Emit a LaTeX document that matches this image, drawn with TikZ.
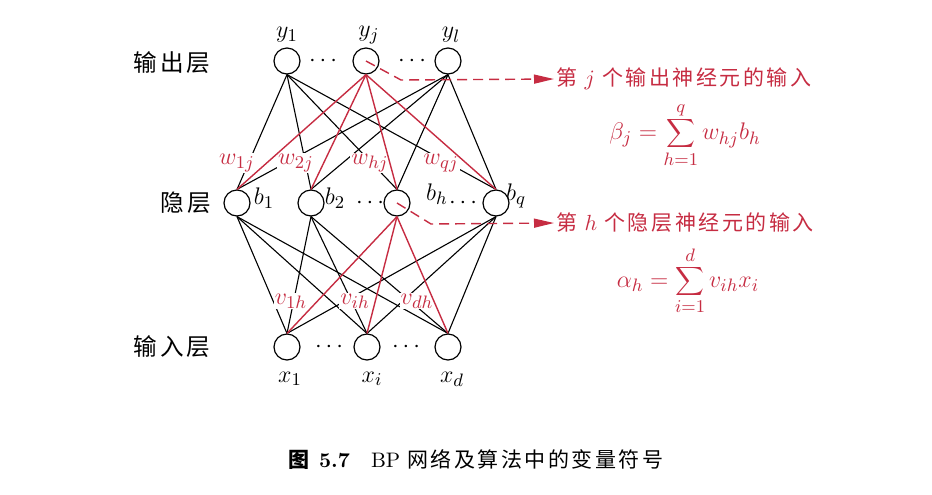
\documentclass[tikz,border=0pt]{standalone}
\usepackage{fontspec}
\newfontfamily\cjk[LetterSpace=12]{Noto Sans CJK SC}
\usetikzlibrary{arrows.meta}
\definecolor{bpred}{RGB}{198,44,66}
\begin{document}
\fontsize{12.5}{15}\selectfont
\begin{tikzpicture}[x=0.5pt,y=-0.5pt,
  neuron/.style={circle,draw,line width=0.6pt,minimum size=13pt,inner sep=0pt},
  edge/.style={line width=0.55pt},
  redge/.style={bpred,line width=0.7pt},
  wlab/.style={fill=white,inner sep=0.6pt,text=bpred},
  nlab/.style={inner sep=0pt},
  dotsn/.style={inner sep=0pt},
  layer/.style={inner sep=0pt,font=\cjk\fontsize{11.8}{14}\selectfont},
  annot/.style={bpred,line width=0.7pt,dash pattern=on 5pt off 3pt,-{Triangle[length=10pt,width=4.5pt]}},
  annottext/.style={text=bpred,inner sep=1pt,font=\cjk\fontsize{10.5}{13}\selectfont},
  formula/.style={text=bpred,inner sep=0pt}
]
\useasboundingbox (0,0) rectangle (932,494);

% neurons
\node[neuron] (y1) at (287,61) {};
\node[neuron] (yj) at (366,61) {};
\node[neuron] (yl) at (448,61) {};
\node[neuron] (b1) at (237,203) {};
\node[neuron] (b2) at (311,203) {};
\node[neuron] (bh) at (397,203) {};
\node[neuron] (bq) at (496,203) {};
\node[neuron] (x1) at (287,347) {};
\node[neuron] (xi) at (367,347) {};
\node[neuron] (xd) at (448,347) {};

% black edges
\foreach \u in {y1,yl}
  \foreach \h in {b1,b2,bh,bq}
    \draw[edge] (\u.south) -- (\h.north);
\foreach \h in {b1,b2,bq}
  \foreach \x in {x1,xi,xd}
    \draw[edge] (\h.south) -- (\x.north);

% weight labels
\node[wlab] (w1) at (237,163) {$w_{1j}$};
\node[wlab] (w2) at (296,163) {$w_{2j}$};
\node[wlab] (wh) at (370,163) {$w_{hj}$};
\node[wlab] (wq) at (441,163) {$w_{qj}$};
\node[wlab] (v1) at (291,301) {$v_{1h}$};
\node[wlab] (vi) at (355,301) {$v_{ih}$};
\node[wlab] (vd) at (417,301) {$v_{dh}$};

% red edges
\foreach \h in {b1,b2,bh,bq}
  \draw[redge] (yj.south) -- (\h.north);
\foreach \x in {x1,xi,xd}
  \draw[redge] (bh.south) -- (\x.north);

% neuron names
\node[nlab] (ly1) at (287,35) {$y_1$};
\node[nlab] (lyj) at (369,35) {$y_j$};
\node[nlab] (lyl) at (451,35) {$y_l$};
\node[nlab] (lb1) at (264,198) {$b_1$};
\node[nlab] (lb2) at (335,198) {$b_2$};
\node[nlab] (lbh) at (437,194) {$b_h$};
\node[nlab] (lbq) at (516,196) {$b_q$};
\node[nlab] (lx1) at (290,379) {$x_1$};
\node[nlab] (lxi) at (372,379) {$x_i$};
\node[nlab] (lxd) at (452,379) {$x_d$};

% dots
\node[dotsn] (d1) at (323,61) {$\cdots$};
\node[dotsn] (d2) at (412,61) {$\cdots$};
\node[dotsn] (d3) at (370,203) {$\cdots$};
\node[dotsn] (d4) at (463,203) {$\cdots$};
\node[dotsn] (d5) at (329,347) {$\cdots$};
\node[dotsn] (d6) at (406,347) {$\cdots$};

% layer names
\node[layer] (lo) at (172,63) {输出层};
\node[layer] (lh) at (186,203) {隐层};
\node[layer] (li) at (172,347) {输入层};

% annotations
\node[annottext,anchor=west] (t1) at (554,79) {第 $j$ 个输出神经元的输入};
\coordinate (c1) at (401,80);
\draw[annot] (yj.center) -- (c1) -- (t1.west);
\node[formula] (f1) at (685,135) {$\displaystyle \beta_j = \sum_{h=1}^{q} w_{hj} b_h$};

\node[annottext,anchor=west] (t2) at (554,223) {第 $h$ 个隐层神经元的输入};
\coordinate (c2) at (431,224);
\draw[annot] (bh.center) -- (c2) -- (t2.west);
\node[formula] (f2) at (688,281) {$\displaystyle \alpha_h = \sum_{i=1}^{d} v_{ih} x_i$};

% caption
\node[inner sep=0pt,font=\fontsize{10.5}{13}\selectfont] (cap) at (476,460)
  {{\cjk\bfseries 图} \textbf{5.7}\quad BP {\cjk 网络及算法中的变量符号}};
\end{tikzpicture}
\end{document}
